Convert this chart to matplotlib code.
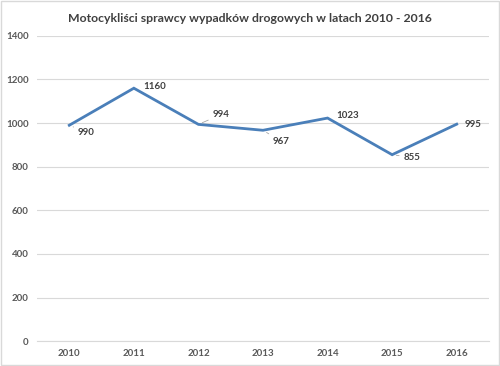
import matplotlib.pyplot as plt
import matplotlib.patches as patches

years = ['2010', '2011', '2012', '2013', '2014', '2015', '2016']
values = [990, 1160, 994, 967, 1023, 855, 995]
# label offsets in points (dx, dy) and whether a leader line is drawn
label_offsets = [(6, -5), (7, 1), (10, 7), (7, -8), (6, 2), (8, -2), (6, 0)]
leaders = [True, False, True, True, False, True, False]

plt.rcParams['font.family'] = ['Lato', 'DejaVu Sans']

fig = plt.figure(figsize=(5, 3.66), dpi=100)
ax = fig.add_axes([0.074, 0.068, 0.904, 0.834])

x = list(range(len(years)))
ax.plot(x, values, color='#4a7fb9', linewidth=2, solid_joinstyle='miter')

for xi, v, off, lead in zip(x, values, label_offsets, leaders):
    ax.annotate(str(v), xy=(xi, v), xytext=off, textcoords='offset points',
                ha='left', va='center', fontsize=7, fontweight='bold', color='#404040',
                arrowprops=dict(arrowstyle='-', color='#a6a6a6', lw=0.6,
                                shrinkA=1, shrinkB=3) if lead else None)

ax.set_xlim(-0.5, len(years) - 0.5)
ax.set_ylim(0, 1400)
ax.set_yticks(range(0, 1401, 200))
ax.set_xticks(x)
ax.set_xticklabels(years)
ax.yaxis.grid(True, color='#d9d9d9', linewidth=0.8)
ax.set_axisbelow(True)
for s in ['top', 'right', 'left']:
    ax.spines[s].set_visible(False)
ax.spines['bottom'].set_color('#d9d9d9')
ax.tick_params(axis='both', length=0, labelsize=7, labelcolor='#595959', pad=6)
for lab in ax.get_xticklabels() + ax.get_yticklabels():
    lab.set_fontweight('bold')

fig.suptitle('Motocykliści sprawcy wypadków drogowych w latach 2010 - 2016',
             x=0.5, y=0.965, fontsize=8.8, fontweight='bold', color='#404040')

fig.patches.append(patches.Rectangle((0.002, 0.002), 0.996, 0.996, transform=fig.transFigure,
                                     fill=False, edgecolor='#d9d9d9', linewidth=1))

fig.savefig('out.png', dpi=100)
